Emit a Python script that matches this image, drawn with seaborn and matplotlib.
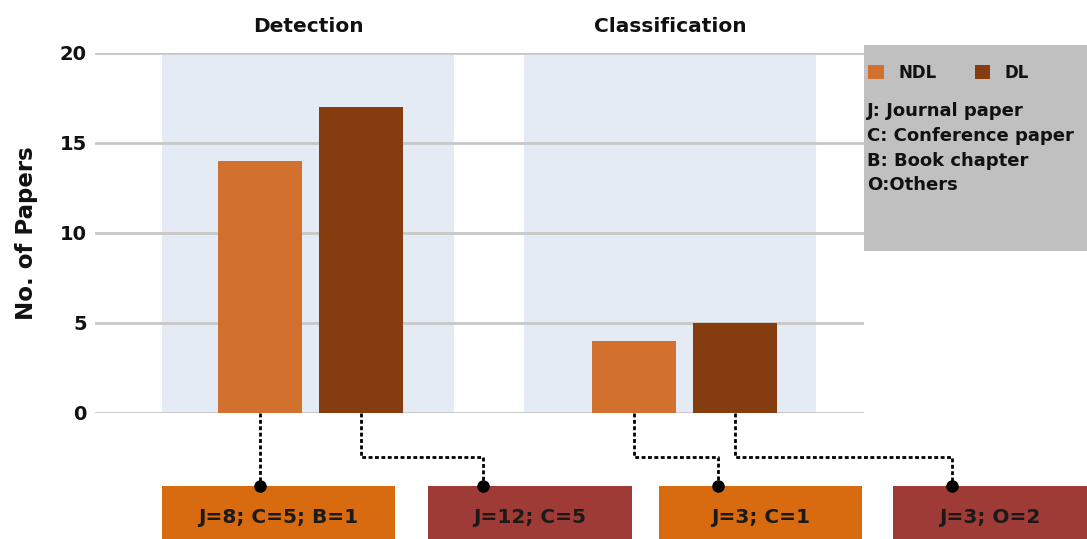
import matplotlib
matplotlib.use("Agg")
import matplotlib.pyplot as plt
import seaborn as sns
import pandas as pd
from matplotlib.patches import Rectangle

# ---------------- data ----------------
tasks = ["Detection", "Classification"]
methods = ["NDL", "DL"]
ndl_counts = [14, 4]
dl_counts = [17, 5]
breakdown_labels = ["J=8; C=5; B=1", "J=12; C=5", "J=3; C=1", "J=3; O=2"]
legend_notes = ["J: Journal paper", "C: Conference paper", "B: Book chapter", "O:Others"]
yticks = [0, 5, 10, 15, 20]
ylabel = "No. of Papers"

df = pd.DataFrame({
    "Task": tasks * 2,
    "Method": ["NDL"] * len(tasks) + ["DL"] * len(tasks),
    "Papers": ndl_counts + dl_counts,
})

# ---------------- style ----------------
sns.set_theme(style="white")
plt.rcParams["font.family"] = ["DejaVu Sans"]
plt.rcParams["font.weight"] = "bold"

bar_colors = {"NDL": "#D2702D", "DL": "#853C0E"}
box_colors = ["#D86A0F", "#9E3B37", "#D86A0F", "#9E3B37"]
panel_color = "#E4EBF5"
grid_color = "#C8C8C8"
text_color = "#111111"

W, H = 1087, 539
fig = plt.figure(figsize=(W / 100, H / 100), dpi=100)
ax = fig.add_axes([95 / W, 126 / H, (864 - 95) / W, 360 / H])

# background panels behind each task group
panel_offsets = [-0.007, -0.038]
panel_half = 0.391
for i, off in enumerate(panel_offsets):
    ax.axvspan(i + off - panel_half, i + off + panel_half, color=panel_color, zorder=0, lw=0)

sns.barplot(data=df, x="Task", y="Papers", hue="Method", hue_order=methods,
            order=tasks, palette=bar_colors, width=0.54, gap=0.17, saturation=1,
            legend=False, ax=ax, zorder=2, edgecolor="none", linewidth=0)

ax.set_xlim(-0.5777, 1.4813)
ax.set_ylim(0, 20)
ax.set_yticks(yticks)
ax.set_yticklabels([str(t) for t in yticks], fontsize=14, fontweight="bold", color=text_color)
ax.tick_params(axis="y", length=0, pad=6)
ax.set_xticks([])
ax.set_xlabel("")
ax.set_ylabel(ylabel, fontsize=16.5, fontweight="bold", color=text_color)
ax.yaxis.set_label_coords(-0.074, 0.5)
for s in ax.spines.values():
    s.set_visible(False)
ax.set_axisbelow(True)
ax.yaxis.grid(True, color=grid_color, lw=2)
ax.xaxis.grid(False)

# group titles
for i, (t, off) in enumerate(zip(tasks, panel_offsets)):
    ax.text(i + off, 21.45, t, ha="center", va="center", fontsize=14.5,
            fontweight="bold", color=text_color, clip_on=False)

# ---------------- breakdown boxes and connectors ----------------
bars = sorted([p for p in ax.patches if isinstance(p, Rectangle) and p.get_height() > 0
               and p.get_width() < 0.5], key=lambda p: p.get_x())

box_spans = [(-0.398, 0.226), (0.314, 0.860), (0.932, 1.476), (1.559, 2.20)]
dot_x = [None, 0.461, 1.090, 1.717]
mid_y = -2.44
box_top = -4.06
box_bottom = -7.2
text_y = -5.78

for k, bar in enumerate(bars):
    cx = bar.get_x() + bar.get_width() / 2
    tx = cx if dot_x[k] is None else dot_x[k]
    if dot_x[k] is None:
        xs, ys = [cx, cx], [0, box_top]
    else:
        xs, ys = [cx, cx, tx, tx], [0, mid_y, mid_y, box_top]
    ax.plot(xs, ys, color="black", lw=2, linestyle=(0, (1.4, 0.9)),
            clip_on=False, zorder=3, dash_capstyle="butt")
    x0, x1 = box_spans[k]
    ax.add_patch(Rectangle((x0, box_bottom), x1 - x0, box_top - box_bottom,
                           facecolor=box_colors[k], edgecolor="none", clip_on=False, zorder=2))
    ax.plot([tx], [box_top], "o", color="black", ms=8, clip_on=False, zorder=4)
    ax.text((x0 + min(x1, 2.079)) / 2, text_y, breakdown_labels[k], ha="center", va="center",
            fontsize=14.5, fontweight="bold", color="#1a1a1a", clip_on=False, zorder=5)

# ---------------- legend box ----------------
fig.patches.append(Rectangle((864 / W, (H - 251) / H), (W - 864) / W, (251 - 45) / H,
                             transform=fig.transFigure, facecolor="#C0C0C0",
                             edgecolor="none", zorder=1))
handles = [Rectangle((0, 0), 1, 1, facecolor=bar_colors[m], edgecolor="none") for m in methods]
leg = fig.legend(handles, methods, ncol=2, loc="center left",
                 bbox_to_anchor=(868 / W, (H - 73) / H), frameon=False,
                 borderpad=0, borderaxespad=0,
                 handlelength=0.95, handleheight=0.95, handletextpad=0.85,
                 columnspacing=2.3, prop={"size": 12, "weight": "bold"})
for t in leg.get_texts():
    t.set_color(text_color)
for j, note in enumerate(legend_notes):
    fig.text(867 / W, (H - (111 + j * 24.8)) / H, note, ha="left", va="center",
             fontsize=13, fontweight="bold", color=text_color)

fig.savefig("out.png", dpi=100)
